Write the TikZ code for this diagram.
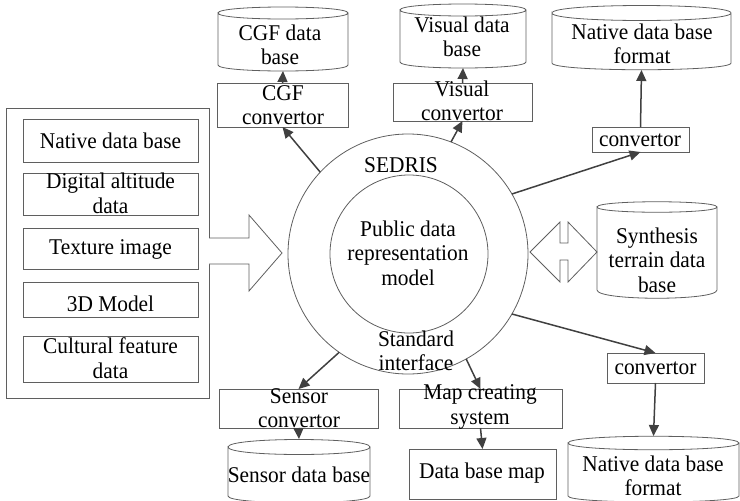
\documentclass[tikz,border=0pt]{standalone}
\usepackage{fontspec}
\setmainfont{Liberation Serif}[FakeStretch=0.95]
\usetikzlibrary{arrows.meta}
\definecolor{framegray}{HTML}{5F5F5F}
\definecolor{arrowgray}{HTML}{404040}

% database drum: top lens, straight sides, curved bottom
% #1 node name, #2 control offset of the top lens, #3 control offset of the bottom curve
\newcommand\dbshape[3]{%
  \draw[dbline] (#1.north west) .. controls +(0,-#2) and +(0,-#2) .. (#1.north east)
    .. controls +(0,#2) and +(0,#2) .. (#1.north west) -- (#1.south west)
    .. controls +(0,#3) and +(0,#3) .. (#1.south east) -- (#1.north east);}

\begin{document}
\begin{tikzpicture}[x=1pt,y=-1pt,
  frame/.style={draw=framegray, line width=0.8pt, inner sep=0pt, outer sep=0pt},
  drum/.style={inner sep=0pt, outer sep=0pt},
  txt/.style={align=center, inner sep=0pt, font=\fontsize{22.5}{24.5}\selectfont},
  flow/.style={draw=arrowgray, line width=1.5pt, -{Triangle[length=11pt,width=10pt]}},
  dbline/.style={draw=framegray, line width=0.8pt},
  block/.style={draw=framegray, line width=0.8pt, fill=white, line join=miter}
]
\useasboundingbox (0,0) rectangle (740,501);

% ---------- source data (left) ----------
\node[frame, minimum width=203pt, minimum height=290pt] (sources) at (107.5,253) {};
\node[frame, minimum width=175pt, minimum height=43pt] (nat) at (110.5,140.5) {};
\node[frame, minimum width=175pt, minimum height=42pt] (dig) at (110.5,194) {};
\node[frame, minimum width=175pt, minimum height=41pt] (tex) at (110.5,248.5) {};
\node[frame, minimum width=175pt, minimum height=35pt] (mod) at (110.5,299.5) {};
\node[frame, minimum width=175pt, minimum height=46pt] (cul) at (110.5,359) {};
\node[txt] (nat-t) at (110.5,140.5) {Native data base};
\node[txt] (dig-t) at (110.5,193.5) {Digital altitude\\data};
\node[txt] (tex-t) at (110.5,249) {Texture image};
\node[txt] (mod-t) at (110.5,304) {3D Model};
\node[txt] (cul-t) at (110.5,358) {Cultural feature\\data};

% block arrow into the model
\draw[block, shift={(sources.east)}]
  (0,-15) -- (40,-15) -- (40,-38) -- (73,0) -- (40,38) -- (40,11) -- (0,11);

% ---------- SEDRIS core ----------
\node[frame, circle, minimum size=240pt] (sedris) at (408,254) {};
\node[frame, circle, minimum size=158pt] (model) at (409,254) {};
\node[txt] (sedris-t) at (401,165) {SEDRIS};
\node[txt] (model-t) at (408,253) {Public data\\representation\\model};
\node[txt] (iface-t) at (416,351) {Standard\\interface};

% ---------- upper branch ----------
\node[frame, minimum width=131pt, minimum height=44pt] (cgfconv) at (282.5,105) {};
\node[txt] (cgfconv-t) at (283,105) {CGF\\convertor};
\node[drum, minimum width=130pt, minimum height=52pt] (cgfdb) at (283,39) {};
\dbshape{cgfdb}{8}{8}
\node[txt] (cgfdb-t) at (280,45) {CGF data\\base};

\node[frame, minimum width=139pt, minimum height=38pt] (visconv) at (462.5,102) {};
\node[txt] (visconv-t) at (462,101) {Visual\\convertor};
\node[drum, minimum width=126pt, minimum height=52pt] (visdb) at (463,36) {};
\dbshape{visdb}{8}{8}
\node[txt] (visdb-t) at (462,37) {Visual data\\base};

\node[frame, minimum width=97pt, minimum height=25pt] (conv1) at (640.5,139.5) {};
\node[txt] (conv1-t) at (640,140.5) {convertor};
\node[drum, minimum width=179pt, minimum height=50pt] (natdb1) at (641.5,38) {};
\dbshape{natdb1}{10}{9}
\node[txt] (natdb1-t) at (642,44) {Native data base\\format};

% ---------- synthesis terrain data base ----------
\node[drum, minimum width=120pt, minimum height=83pt] (synthdb) at (657,248.5) {};
\dbshape{synthdb}{7}{11}
\node[txt] (synthdb-t) at (657,260) {Synthesis\\terrain data\\base};
\draw[block] (530,252) -- (560,222) -- (560,243) -- (568,243) -- (568,222) -- (597,252)
  -- (568,282) -- (568,260) -- (560,260) -- (560,282) -- cycle;

% ---------- lower branch ----------
\node[frame, minimum width=97pt, minimum height=30pt] (conv2) at (655.5,368) {};
\node[txt] (conv2-t) at (655.5,368.5) {convertor};
\node[drum, minimum width=171pt, minimum height=53pt] (natdb2) at (653.5,469.5) {};
\dbshape{natdb2}{9}{8}
\node[txt] (natdb2-t) at (653,476) {Native data base\\format};

\node[frame, minimum width=163pt, minimum height=39pt] (mapsys) at (480.5,408.5) {};
\node[txt] (mapsys-t) at (480,407) {Map creating\\system};
\node[frame, minimum width=147pt, minimum height=50pt] (dbmap) at (482.5,474) {};
\node[txt] (dbmap-t) at (482,473) {Data base map};

\node[frame, minimum width=159pt, minimum height=39pt] (sensconv) at (298.5,408.5) {};
\node[txt] (sensconv-t) at (299,408) {Sensor\\convertor};
\node[drum, minimum width=142pt, minimum height=49pt] (sensdb) at (299,471.5) {};
\dbshape{sensdb}{10}{9}
\node[txt] (sensdb-t) at (299,475) {Sensor data base};

% ---------- connectors ----------
\draw[flow] (sedris.137) -- (cgfconv.south);
\draw[flow] (sedris.69) -- (visconv.south);
\draw[flow] (sedris.30) -- (conv1.south);
\draw[flow] (sedris.-30) -- (conv2.north);
\draw[flow] (sedris.-61) -- (mapsys.north);
\draw[flow] (sedris.235) -- (sensconv.north);

\draw[flow] (cgfconv.north) -- ([yshift=-6pt]cgfdb.south);
\draw[flow] (visconv.north) -- ([yshift=-6pt]visdb.south);
\draw[flow] (conv1.north) -- ([yshift=-7pt]natdb1.south);
\draw[flow] (conv2.south) -- ([yshift=7pt]natdb2.north);
\draw[flow] (mapsys.south) -- (dbmap.north);
\draw[flow] (sensconv.south) -- ([yshift=8pt]sensdb.north);
\end{tikzpicture}
\end{document}
